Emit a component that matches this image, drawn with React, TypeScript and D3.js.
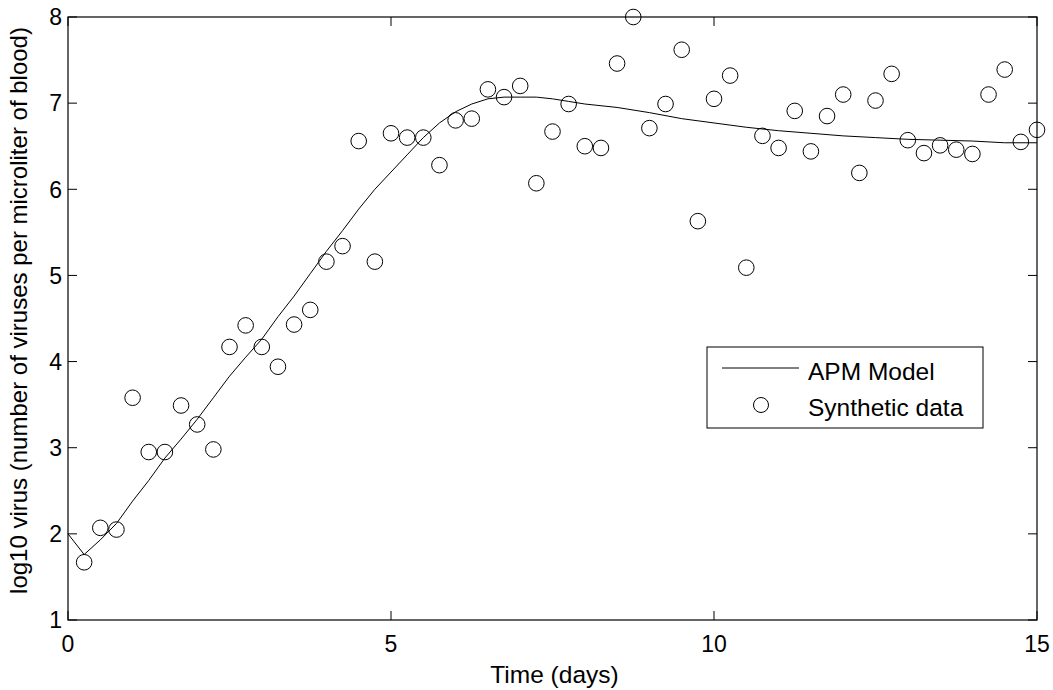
import React from "react";
import * as d3 from "d3";

// Synthetic data: sampled every 0.25 day
const dataTime = d3.range(1, 61).map((i) => i * 0.25);
const dataValue = [
  1.67, 2.07, 2.05, 3.58, 2.95, 2.95, 3.49, 3.27, 2.98, 4.17,
  4.42, 4.17, 3.94, 4.43, 4.6, 5.16, 5.34, 6.56, 5.16, 6.65,
  6.6, 6.6, 6.28, 6.8, 6.82, 7.16, 7.07, 7.2, 6.07, 6.67,
  6.99, 6.5, 6.48, 7.46, 8.0, 6.71, 6.99, 7.62, 5.63, 7.05,
  7.32, 5.09, 6.62, 6.48, 6.91, 6.44, 6.85, 7.1, 6.19, 7.03,
  7.34, 6.57, 6.42, 6.51, 6.46, 6.41, 7.1, 7.39, 6.55, 6.69,
];

// APM model curve
const modelTime = [
  0, 0.25, 0.5, 0.75, 1, 1.25, 1.5, 1.75, 2, 2.25, 2.5, 2.75, 3, 3.25, 3.5,
  3.75, 4, 4.25, 4.5, 4.75, 5, 5.25, 5.5, 5.75, 6, 6.25, 6.5, 6.75, 7, 7.25,
  7.5, 7.75, 8, 8.5, 9, 9.5, 10, 10.5, 11, 11.5, 12, 12.5, 13, 13.5, 14, 14.5, 15,
];
const modelValue = [
  2.0, 1.76, 1.93, 2.12, 2.38, 2.62, 2.88, 3.1, 3.33, 3.58, 3.83, 4.05, 4.26,
  4.52, 4.76, 5.02, 5.28, 5.52, 5.77, 6.0, 6.2, 6.4, 6.6, 6.77, 6.9, 6.99,
  7.05, 7.07, 7.07, 7.07, 7.05, 7.02, 6.99, 6.95, 6.89, 6.82, 6.77, 6.72,
  6.68, 6.65, 6.62, 6.6, 6.58, 6.57, 6.56, 6.54, 6.54,
];

const xTicks = [0, 5, 10, 15];
const yTicks = [1, 2, 3, 4, 5, 6, 7, 8];

const WIDTH = 1053;
const HEIGHT = 690;
const plot = { left: 68, right: 1037, top: 17, bottom: 620 };
const font = "'Liberation Sans', Arial, sans-serif";

export default function App() {
  const x = d3.scaleLinear().domain([0, 15]).range([plot.left, plot.right]);
  const y = d3.scaleLinear().domain([1, 8]).range([plot.bottom, plot.top]);

  const line = d3
    .line<number>()
    .x((d, i) => x(modelTime[i]))
    .y((d) => y(d));

  const tickLen = 9;

  return (
    <svg
      width={WIDTH}
      height={HEIGHT}
      style={{ position: "absolute", left: 0, top: 0, background: "#fff" }}
      fontFamily={font}
    >
      <rect x={0} y={0} width={WIDTH} height={HEIGHT} fill="#fff" />

      {/* model line */}
      <path d={line(modelValue) || ""} fill="none" stroke="#000" strokeWidth={1} />

      {/* data points */}
      {dataValue.map((v, i) => (
        <circle
          key={i}
          cx={x(dataTime[i])}
          cy={y(v)}
          r={7.8}
          fill="none"
          stroke="#000"
          strokeWidth={1}
        />
      ))}

      {/* axes box */}
      <rect
        x={plot.left}
        y={plot.top}
        width={plot.right - plot.left}
        height={plot.bottom - plot.top}
        fill="none"
        stroke="#000"
        strokeWidth={1.2}
      />

      {/* x ticks */}
      {xTicks.map((t) => (
        <g key={"x" + t}>
          <line x1={x(t)} x2={x(t)} y1={plot.bottom} y2={plot.bottom - tickLen} stroke="#000" />
          <line x1={x(t)} x2={x(t)} y1={plot.top} y2={plot.top + tickLen} stroke="#000" />
          <text x={x(t)} y={652} textAnchor="middle" fontSize={23} fill="#000">
            {t}
          </text>
        </g>
      ))}

      {/* y ticks */}
      {yTicks.map((t) => (
        <g key={"y" + t}>
          <line x1={plot.left} x2={plot.left + tickLen} y1={y(t)} y2={y(t)} stroke="#000" />
          <line x1={plot.right} x2={plot.right - tickLen} y1={y(t)} y2={y(t)} stroke="#000" />
          <text x={62} y={y(t)} dy="0.36em" textAnchor="end" fontSize={23} fill="#000">
            {t}
          </text>
        </g>
      ))}

      {/* axis labels */}
      <text x={(plot.left + plot.right) / 2 + 2} y={683} textAnchor="middle" fontSize={24.5} fill="#000">
        Time (days)
      </text>
      <text
        transform={`translate(27,${(plot.top + plot.bottom) / 2 - 8}) rotate(-90)`}
        textAnchor="middle"
        fontSize={24}
        fill="#000"
      >
        log10 virus (number of viruses per microliter of blood)
      </text>

      {/* legend */}
      <g>
        <rect x={707} y={347} width={276} height={81} fill="#fff" stroke="#000" strokeWidth={1} />
        <line x1={722} x2={799} y1={368} y2={368} stroke="#000" strokeWidth={1} />
        <text x={808} y={380} fontSize={24.5} fill="#000">
          APM Model
        </text>
        <circle cx={761} cy={405} r={7.5} fill="none" stroke="#000" strokeWidth={1} />
        <text x={808} y={416} fontSize={24.5} fill="#000">
          Synthetic data
        </text>
      </g>
    </svg>
  );
}
